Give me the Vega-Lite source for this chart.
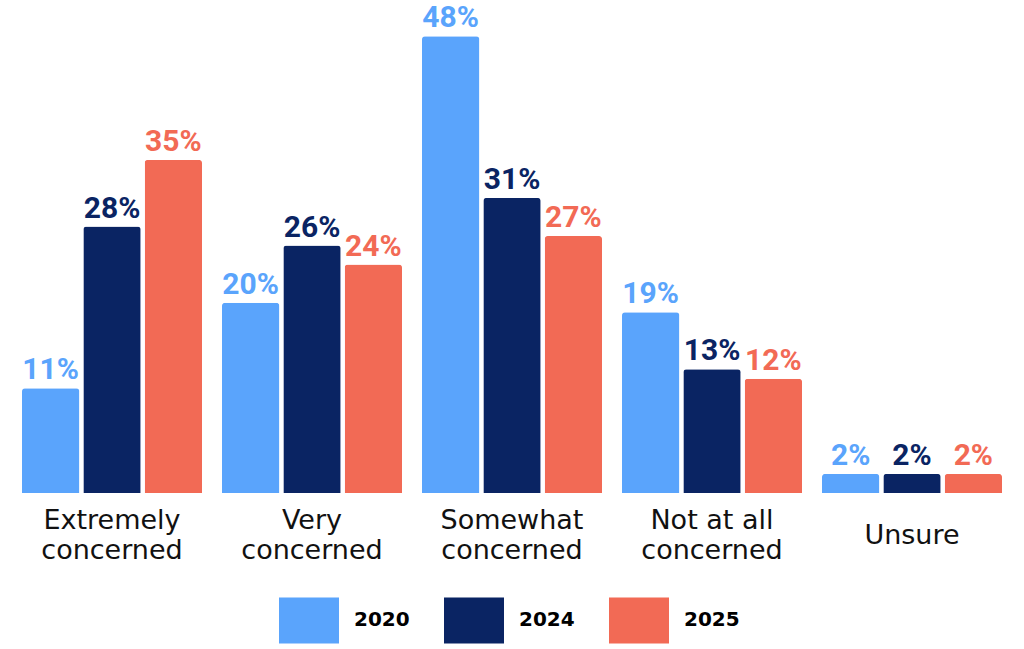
{
  "$schema": "https://vega.github.io/schema/vega-lite/v6.json",
  "width": 1000,
  "height": 493,
  "autosize": {"type": "none"},
  "padding": {"left": 12, "right": 12, "top": 0, "bottom": 156},
  "background": "white",
  "config": {"view": {"stroke": null}, "font": "DejaVu Sans"},
  "data": {
    "values": [
      {"category": "Extremely concerned", "year": "2020", "value": 11},
      {"category": "Extremely concerned", "year": "2024", "value": 28},
      {"category": "Extremely concerned", "year": "2025", "value": 35},
      {"category": "Very concerned", "year": "2020", "value": 20},
      {"category": "Very concerned", "year": "2024", "value": 26},
      {"category": "Very concerned", "year": "2025", "value": 24},
      {"category": "Somewhat concerned", "year": "2020", "value": 48},
      {"category": "Somewhat concerned", "year": "2024", "value": 31},
      {"category": "Somewhat concerned", "year": "2025", "value": 27},
      {"category": "Not at all concerned", "year": "2020", "value": 19},
      {"category": "Not at all concerned", "year": "2024", "value": 13},
      {"category": "Not at all concerned", "year": "2025", "value": 12},
      {"category": "Unsure", "year": "2020", "value": 2},
      {"category": "Unsure", "year": "2024", "value": 2},
      {"category": "Unsure", "year": "2025", "value": 2}
    ]
  },
  "transform": [{"calculate": "datum.value + '%'", "as": "pct"}],
  "encoding": {
    "x": {
      "field": "category",
      "type": "nominal",
      "sort": null,
      "scale": {"paddingInner": 0.1, "paddingOuter": 0.05},
      "axis": {
        "title": null,
        "domain": false,
        "ticks": false,
        "tickSize": 0,
        "labelAngle": 0,
        "labelFont": "DejaVu Sans",
        "labelFontSize": 27,
        "labelColor": "#111111",
        "labelLineHeight": 30,
        "labelBaseline": "middle",
        "labelPadding": {"condition": {"test": "datum.label == 'Unsure'", "value": 42}, "value": 27},
        "labelLimit": 300,
        "labelExpr": "indexof(datum.label, ' concerned') >= 0 ? [replace(datum.label, ' concerned', ''), 'concerned'] : datum.label"
      }
    },
    "xOffset": {
      "field": "year",
      "type": "nominal",
      "scale": {"paddingInner": 0.065, "paddingOuter": 0}
    },
    "y": {
      "field": "value",
      "type": "quantitative",
      "scale": {"domain": [0, 51.8], "nice": false},
      "axis": null
    },
    "color": {
      "field": "year",
      "type": "nominal",
      "scale": {"domain": ["2020", "2024", "2025"], "range": ["#5AA4FC", "#0A2463", "#F26A55"]},
      "legend": {
        "title": null,
        "orient": "none",
        "direction": "horizontal",
        "legendX": 267,
        "legendY": 590,
        "symbolType": "M-1,-0.767H1V0.767H-1Z",
        "symbolSize": 3600,
        "symbolStrokeWidth": 0,
        "symbolOpacity": 1,
        "labelFont": "DejaVu Sans",
        "labelFontWeight": "bold",
        "labelFontSize": 20,
        "labelColor": "#000000",
        "labelOffset": 15,
        "columnPadding": 34
      }
    }
  },
  "layer": [
    {
      "mark": {"type": "bar", "cornerRadiusTopLeft": 3, "cornerRadiusTopRight": 3}
    },
    {
      "mark": {"type": "text", "baseline": "alphabetic", "dy": -9, "font": "Roboto", "fontWeight": "bold", "fontSize": 30},
      "encoding": {"text": {"field": "pct"}}
    }
  ]
}
